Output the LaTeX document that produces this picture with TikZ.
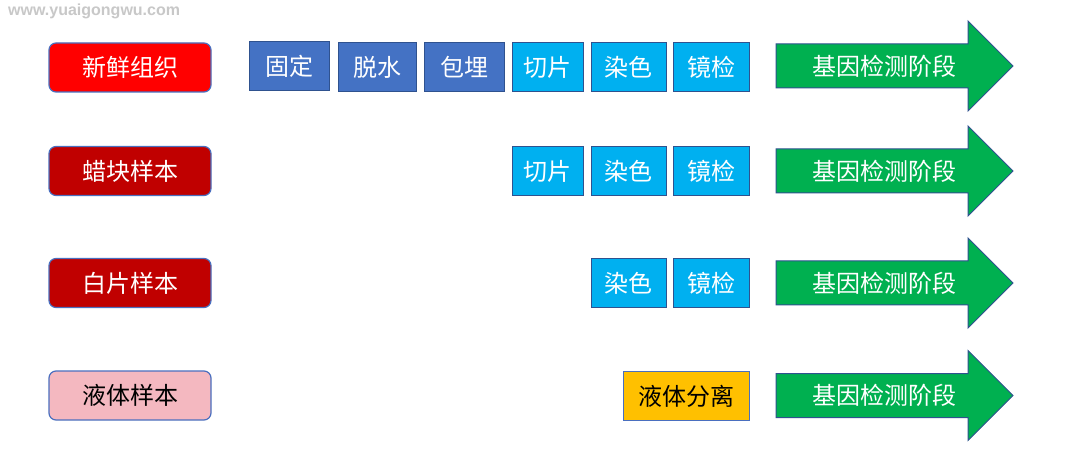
\documentclass[tikz,border=0pt]{standalone}
\usepackage{fontspec}
\setmainfont{Liberation Sans}
\newfontfamily\cjk{Noto Sans CJK SC}
\definecolor{srcborder}{HTML}{4A6FBF}
\definecolor{boxborder}{HTML}{2F528F}
\definecolor{darkblue}{HTML}{4472C4}
\definecolor{lightblue}{HTML}{00B0F0}
\definecolor{darkred}{HTML}{C00000}
\definecolor{pinkfill}{HTML}{F4B8C0}
\definecolor{yellowfill}{HTML}{FFC000}
\definecolor{greenfill}{HTML}{00B050}
\definecolor{wmgray}{HTML}{C8C8C8}
\newcommand\genearrow[2]{%
  \draw[arrowst] (776,#1-22) -- (968,#1-22) -- (968,#1-45) -- (1013,#1)
    -- (968,#1+45) -- (968,#1+22) -- (776,#1+22) -- cycle;
  \node[arrowtext] (#2) at (884,#1) {基因检测阶段};}
\begin{document}
\begin{tikzpicture}[x=1pt,y=-1pt,
  cjkfont/.style={font=\cjk\fontsize{24}{24}\selectfont},
  src/.style={draw=srcborder, line width=1.2pt, rounded corners=7pt,
    minimum width=162pt, minimum height=49pt, inner sep=0pt, cjkfont, text=white},
  stepbox/.style={draw=boxborder, line width=1pt, minimum height=49pt,
    inner sep=0pt, cjkfont, text=white},
  dstep/.style={stepbox, fill=darkblue},
  lstep/.style={stepbox, fill=lightblue},
  arrowst/.style={draw=boxborder, line width=1pt, fill=greenfill, line join=miter},
  arrowtext/.style={cjkfont, text=white, inner sep=0pt}]
\useasboundingbox (0,0) rectangle (1080,465);
\fill[white] (0,0) rectangle (1080,465);
% watermark
\node[anchor=west, text=wmgray, inner sep=0pt,
  font=\bfseries\fontsize{16}{16}\selectfont] (wm) at (8,11) {www.yuaigongwu.com};
% row 1
\node[src, fill=red] (s1) at (130,67.5) {新鲜组织};
\node[dstep, minimum width=80pt] (r1a) at (289,66.5) {固定};
\node[dstep, minimum width=78pt] (r1b) at (377,67) {脱水};
\node[dstep, minimum width=80pt] (r1c) at (464,67) {包埋};
\node[lstep, minimum width=71pt] (r1d) at (547.5,67) {切片};
\node[lstep, minimum width=75pt] (r1e) at (628.5,67) {染色};
\node[lstep, minimum width=76pt] (r1f) at (711,67) {镜检};
\genearrow{66}{g1}
% row 2
\node[src, fill=darkred] (s2) at (130,171) {蜡块样本};
\node[lstep, minimum width=71pt] (r2d) at (547.5,171.5) {切片};
\node[lstep, minimum width=75pt] (r2e) at (628.5,171.5) {染色};
\node[lstep, minimum width=76pt] (r2f) at (711,171.5) {镜检};
\genearrow{171}{g2}
% row 3
\node[src, fill=darkred] (s3) at (130,283) {白片样本};
\node[lstep, minimum width=75pt] (r3e) at (628.5,283.5) {染色};
\node[lstep, minimum width=76pt] (r3f) at (711,283.5) {镜检};
\genearrow{283}{g3}
% row 4
\node[src, fill=pinkfill, text=black] (s4) at (130,395.5) {液体样本};
\node[stepbox, fill=yellowfill, draw=srcborder, text=black, minimum width=126pt] (r4) at (686,396) {液体分离};
\genearrow{395.5}{g4}
\end{tikzpicture}
\end{document}
